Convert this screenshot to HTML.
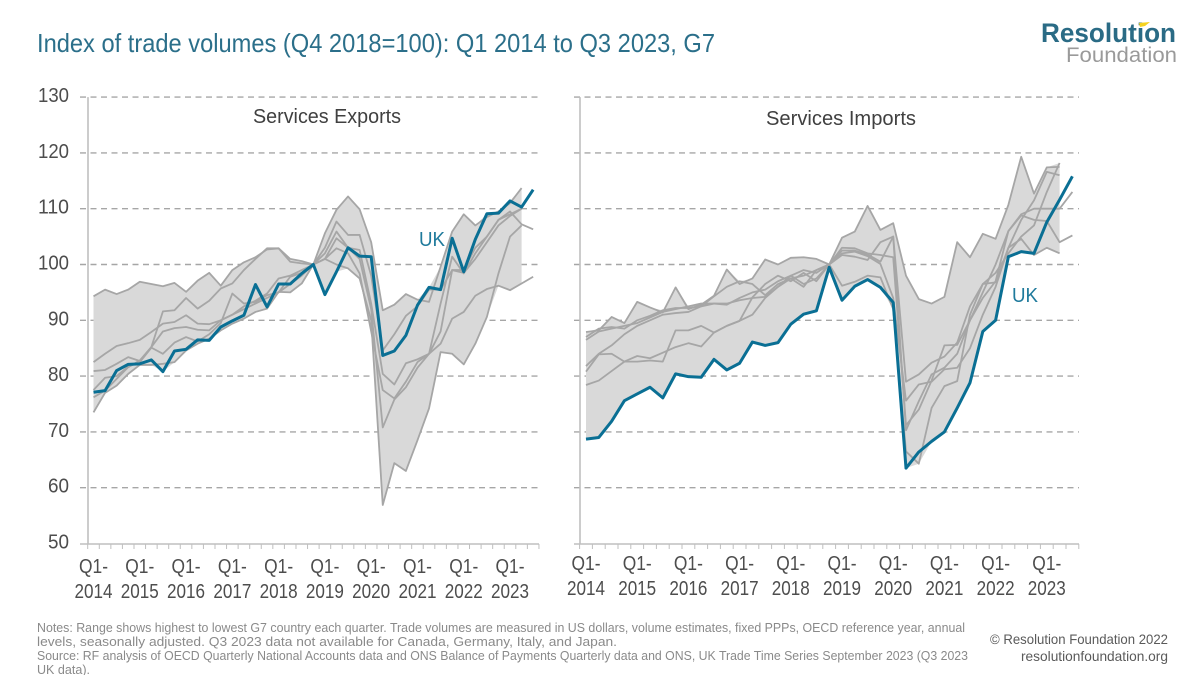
<!DOCTYPE html>
<html lang="en">
<head>
<meta charset="utf-8">
<title>Index of trade volumes, G7</title>
<style>
html,body{margin:0;padding:0;background:#fff;}
svg{display:block;font-family:"Liberation Sans",sans-serif;}
</style>
</head>
<body>
<svg id="chart" xmlns="http://www.w3.org/2000/svg" width="1200" height="675" viewBox="0 0 1200 675">
<rect width="1200" height="675" fill="#fff"/>
<text x="37" y="52" font-size="26" fill="#2b6f8a" textLength="678" lengthAdjust="spacingAndGlyphs">Index of trade volumes (Q4 2018=100): Q1 2014 to Q3 2023, G7</text>
<g>
<text x="1041" y="42" font-size="27" font-weight="bold" fill="#2a6b85" textLength="135" lengthAdjust="spacingAndGlyphs">Resolution</text>
<text x="1066" y="62" font-size="21" fill="#9a9a9a" textLength="111" lengthAdjust="spacingAndGlyphs">Foundation</text>
<polygon points="1139,23 1150,22 1145,26 1140,27" fill="#f4d21f"/>
</g>
<g id="panels"></g>
<g font-size="13" fill="#8a8a8a">
<text x="37" y="632" textLength="928" lengthAdjust="spacingAndGlyphs">Notes: Range shows highest to lowest G7 country each quarter. Trade volumes are measured in US dollars, volume estimates, fixed PPPs, OECD reference year, annual</text>
<text x="37" y="646" textLength="580" lengthAdjust="spacingAndGlyphs">levels, seasonally adjusted. Q3 2023 data not available for Canada, Germany, Italy, and Japan.</text>
<text x="37" y="660" textLength="931" lengthAdjust="spacingAndGlyphs">Source: RF analysis of OECD Quarterly National Accounts data and ONS Balance of Payments Quarterly data and ONS, UK Trade Time Series September 2023 (Q3 2023</text>
<text x="37" y="674" textLength="53" lengthAdjust="spacingAndGlyphs">UK data).</text>
</g>
<g font-size="14" fill="#5a5a5a">
<text x="990" y="644" textLength="178" lengthAdjust="spacingAndGlyphs">© Resolution Foundation 2022</text>
<text x="1021" y="661" textLength="147" lengthAdjust="spacingAndGlyphs">resolutionfoundation.org</text>
</g>
</svg>
<script>
const yTicks = [50, 60, 70, 80, 90, 100, 110, 120, 130];
const years = ["2014", "2015", "2016", "2017", "2018", "2019", "2020", "2021", "2022", "2023"];
const quarterCount = 39;

const exportsUk = [77.1,77.4,81,82.1,82.2,82.9,80.8,84.5,84.8,86.5,86.4,88.8,89.9,90.9,96.4,92.4,96.5,96.5,98.4,100,94.6,98.7,103,101.5,101.4,83.7,84.5,87.3,92.7,95.9,95.5,104.7,98.7,104.5,109.1,109.2,111.4,110.3,113.4];
const exportsA = [94.3,95.5,94.7,95.5,96.9,96.5,96.1,96.7,95.1,97.1,98.5,96.2,99,100.4,101.3,102.7,102.9,101,100.6,100,105.6,109.8,112.2,109.9,104,91.8,92.8,94.7,93.7,93.3,99.6,105.9,109,107,108.5,109.5,111,113.7];
const exportsB = [73.5,77,78.3,80.4,82,82,82.2,82.5,84.6,85.8,86.7,88.2,89.4,90.3,91.5,92.1,95.1,95,96.6,100,101,100,99.3,97.5,90,56.9,64.4,63,68.5,74.2,84.3,84,82.1,85.8,90.6,98.4,105,107];
const exportsC = [76.2,77.4,79.5,81.6,82.8,85.2,91.6,91.8,94,92.1,93.5,95.7,96.6,99,101,102.9,102.9,100.5,100.2,100,103,107.7,105.3,105.3,98,84.6,87.5,90.8,92.5,95.5,95.5,99,98.5,101,104,107,108.7,110];
const exportsD = [82.5,84,85.4,85.9,86.5,87.9,89.4,89.7,90.9,89.4,89.3,90,91,92.5,93.5,94.8,97.5,98,99,100,102,105.9,103,101,92,70.8,75.8,78,81.5,84,88,99,99,103,105,108,109.5,107.2,106.3];
const exportsE = [80.9,81.1,82.2,83.4,82.7,85.2,88,88.6,88.8,88.3,88.2,90,91,92,93,94,95,96.5,98,100,101,102.9,102,98.4,88,77.5,76,79,82.5,84,85.8,90.3,91.5,94.4,95.6,96.2,95.4,96.6,97.8];
const exportsF = [77.5,79.7,80,81.7,82.5,85.1,84,86,87,86.2,87.5,89.5,94.8,93,93.3,94.5,95,97.8,98.5,100,101,104.7,103,102.6,93,80.4,78.5,82.3,83,84,93,101.4,98.4,102,105,108,109,110];

const importsUk = [68.7,69,71.9,75.6,76.8,78,76.1,80.4,79.9,79.8,83,81.1,82.3,86.1,85.5,86,89.3,91.1,91.7,99.5,93.6,96.1,97.3,95.9,93.2,63.5,66.4,68.3,70,74.3,78.8,88,90,101.4,102.3,102,107.6,111.6,115.8];
const importsA = [87.9,88.2,90.6,89.5,93.3,92.3,91.4,95.9,92,92.8,94.4,99.1,96.5,97.5,100.9,100,101.2,101.3,101,100,104.8,105.9,110.5,106.2,107.4,98,93.8,93,94.2,104,101.3,105.5,104.6,110.7,119.3,112.7,117.4,117.5];
const importsB = [86.5,88,88.5,89,89.5,90.5,91.5,92,92.5,93,93,92.8,94,95,95.5,97,98,99,98.5,100,102.5,102.5,101.8,100.5,105,79,80.3,82.4,83.5,86,92.5,96.5,98.5,102,105,107,113,118.2];
const importsC = [87,88.5,88.8,88.5,90,90.8,91.8,92.2,92.2,92.5,93,93,93.6,94,94.2,96,97.5,96,99,100,102,102.3,101.5,100.1,94,75.6,78.5,79,81.2,81.5,85,91,96,103,108,111.5,116.6,116];
const importsD = [81.8,84,85.5,87.5,89,90,91,91.3,91.5,92.5,94.3,96,97,96.5,94.5,96.5,97.5,98,99,100,103,102.9,102,101.7,101.3,71.2,74,79.2,85.5,85.6,90,94,97,106,109,110,110,110,113];
const importsE = [80.8,83.9,84,82.6,83.6,83.2,84.2,85.2,85.9,85.3,87.8,89,89.9,94.1,96.5,98,97,98.5,97,100,101.7,101.4,100.8,104,105,70.3,75.5,80.3,81.5,84,90,95,100,106,108.8,108,107.8,104,105.2];
const importsF = [78.4,79.2,80.9,82.6,82.6,82.8,82.6,88.2,88.2,89,87.8,89,89.9,91,94,96,98,96.5,97.5,100,96.2,96.9,98,97.7,92,66.5,64.3,74.3,78.2,79.1,91,96.5,96.8,103,104.6,101.7,103,102];

const NS = 'http://www.w3.org/2000/svg';
const root = document.getElementById('panels');

function make(tag, attrs, parent, text) {
  const el = document.createElementNS(NS, tag);
  for (const k in attrs) el.setAttribute(k, attrs[k]);
  if (text !== undefined) el.textContent = text;
  parent.appendChild(el);
  return el;
}
function yScale(v) { return 543.5 - (v - 50) * 5.58; }

function drawPanel(cfg) {
  const xScale = i => cfg.x0 + cfg.step * i;
  const g = make('g', {}, root);
  
  

  yTicks.forEach(t => {
    if (t === 50) return;
    const grid = make('line', {x1: cfg.gridX0, x2: cfg.gridX1, y1: yScale(t), y2: yScale(t), stroke: '#a6a6a6', 'stroke-width': 1.4, 'stroke-dasharray': '6 4.5'}, g);
    
    
  });

  const all = [cfg.uk].concat(cfg.greys);
  const upper = [], lower = [];
  for (let i = 0; i < quarterCount - 1; i++) {
    const vals = all.map(s => s[i]);
    upper.push(xScale(i) + ',' + yScale(Math.max.apply(null, vals)));
    lower.unshift(xScale(i) + ',' + yScale(Math.min.apply(null, vals)));
  }
  const band = make('polygon', {points: upper.concat(lower).join(' '), fill: '#d9d9d9'}, g);
  
  

  cfg.greys.forEach(s => {
    const pts = s.map((v, i) => xScale(i) + ',' + yScale(v)).join(' ');
    const line = make('polyline', {points: pts, fill: 'none', stroke: '#a6a6a6', 'stroke-width': 1.8, 'stroke-linejoin': 'round'}, g);
    
    
  });

  const ukPts = cfg.uk.map((v, i) => xScale(i) + ',' + yScale(v)).join(' ');
  const ukLine = make('polyline', {points: ukPts, fill: 'none', stroke: '#0a6f94', 'stroke-width': 3, 'stroke-linejoin': 'round'}, g);
  
  

  const yAxis = make('line', {x1: cfg.axisX, x2: cfg.axisX, y1: yScale(130), y2: 544, stroke: '#bfbfbf', 'stroke-width': 1.6}, g);
  
  
  const xAxis = make('line', {x1: cfg.gridX0, x2: cfg.gridX1, y1: 544, y2: 544, stroke: '#bfbfbf', 'stroke-width': 1.6}, g);
  
  

  for (let k = 0; k <= quarterCount; k++) {
    const tx = cfg.x0 - cfg.step / 2 + cfg.step * k;
    const tick = make('line', {x1: tx, x2: tx, y1: 544, y2: 549, stroke: '#bfbfbf', 'stroke-width': 1}, g);
    
    
  }

  years.forEach((yr, n) => {
    const cx = xScale(n * 4);
    const q = make('text', {x: cx, y: cfg.labelY1, 'text-anchor': 'middle', 'font-size': 20, fill: '#4d4d4d', textLength: 29, lengthAdjust: 'spacingAndGlyphs'}, g, 'Q1-');
    
    
    const y = make('text', {x: cx, y: cfg.labelY2, 'text-anchor': 'middle', 'font-size': 20, fill: '#4d4d4d', textLength: 38, lengthAdjust: 'spacingAndGlyphs'}, g, yr);
    
    
  });

  const title = make('text', {x: cfg.titleX, y: cfg.titleY, 'font-size': 20, fill: '#404040', textLength: cfg.titleW, lengthAdjust: 'spacingAndGlyphs'}, g, cfg.title);
  
  

  const uk = make('text', {x: cfg.ukX, y: cfg.ukY, 'font-size': 20, fill: '#1f7a9c', textLength: 26, lengthAdjust: 'spacingAndGlyphs'}, g, 'UK');
  
  
}

drawPanel({name: 'services-exports-panel', title: 'Services Exports', uk: exportsUk,
  greys: [exportsA, exportsB, exportsC, exportsD, exportsE, exportsF],
  x0: 93.5, step: 11.57, axisX: 88, gridX0: 80, gridX1: 539, labelY1: 573, labelY2: 598,
  titleX: 253, titleY: 123, titleW: 148, ukX: 419, ukY: 246});
drawPanel({name: 'services-imports-panel', title: 'Services Imports', uk: importsUk,
  greys: [importsA, importsB, importsC, importsD, importsE, importsF],
  x0: 586, step: 12.8, axisX: 580, gridX0: 574, gridX1: 1079, labelY1: 570, labelY2: 595,
  titleX: 766, titleY: 125, titleW: 150, ukX: 1012, ukY: 302});

const axisLabels = make('g', {}, root);


yTicks.forEach(t => {
  const label = make('text', {x: 69, y: yScale(t) + 5, 'text-anchor': 'end', 'font-size': 20, fill: '#4d4d4d', textLength: t >= 100 ? 31 : 21, lengthAdjust: 'spacingAndGlyphs'}, axisLabels, String(t));
  
  
});
</script>
</body>
</html>
